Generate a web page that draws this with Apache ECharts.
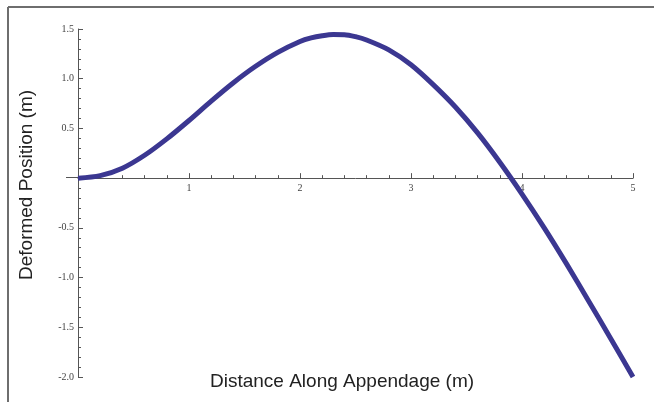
<!DOCTYPE html>
<html>
<head>
<meta charset="utf-8">
<script src="https://cdn.jsdelivr.net/npm/echarts@6/dist/echarts.min.js"></script>
<style>html,body{margin:0;padding:0;background:#fff;}#c{width:654px;height:402px;}</style>
</head>
<body>
<div id="c"></div>
<script>
const distance = [0, 0.2, 0.4, 0.6, 0.8, 1.0, 1.2, 1.4, 1.6, 1.8, 2.0, 2.1, 2.2, 2.3, 2.4, 2.5, 2.6, 2.8, 3.0, 3.2, 3.4, 3.6, 3.8, 4.0, 4.2, 4.4, 4.6, 4.8, 5.0];
const position = [0, 0.025, 0.10, 0.23, 0.395, 0.58, 0.775, 0.96, 1.125, 1.265, 1.374, 1.41, 1.432, 1.444, 1.443, 1.423, 1.389, 1.29, 1.14, 0.94, 0.715, 0.455, 0.16, -0.16, -0.50, -0.86, -1.235, -1.615, -2.0];
const xTitle = 'Distance Along Appendage (m)';
const yTitle = 'Deformed Position (m)';

const chart = echarts.init(document.getElementById('c'));
const axisCol = '#555';
const labelFont = { fontFamily: 'Liberation Serif', fontSize: 10, color: '#444' };
chart.setOption({
  animation: false,
  grid: { left: 78, right: 21, top: 29, bottom: 25, containLabel: false },
  graphic: [
    { type: 'line', shape: { x1: 8, y1: 7, x2: 654, y2: 7 }, style: { stroke: '#6e6e6e', lineWidth: 2 } },
    { type: 'line', shape: { x1: 8, y1: 7, x2: 8, y2: 402 }, style: { stroke: '#6e6e6e', lineWidth: 2 } },
    { type: 'line', shape: { x1: 66, y1: 177.5, x2: 78, y2: 177.5 }, style: { stroke: axisCol, lineWidth: 1 } },
    { type: 'text', left: 210, top: 372, style: { text: xTitle, font: '19px "Liberation Sans"', fill: '#222' } },
    { type: 'text', x: 17, y: 280, rotation: Math.PI / 2, style: { text: yTitle, font: '19px "Liberation Sans"', fill: '#222', textAlign: 'left', textVerticalAlign: 'top' } }
  ],
  xAxis: {
    type: 'value', min: 0, max: 5, interval: 1,
    axisLine: { onZero: true, lineStyle: { color: axisCol, width: 1 } },
    axisTick: { show: true, inside: true, length: 5, lineStyle: { color: axisCol } },
    minorTick: { show: true, splitNumber: 5, length: 3, lineStyle: { color: axisCol } },
    axisLabel: { show: true, margin: -194, ...labelFont, formatter: v => (v === 0 ? '' : String(v)) },
    splitLine: { show: false }
  },
  yAxis: {
    type: 'value', min: -2, max: 1.5, interval: 0.5,
    axisLine: { show: true, onZero: true, lineStyle: { color: axisCol, width: 1 } },
    axisTick: { show: true, inside: true, length: 5, lineStyle: { color: axisCol } },
    minorTick: { show: true, splitNumber: 5, length: 3, lineStyle: { color: axisCol } },
    axisLabel: { margin: 4, ...labelFont, formatter: v => (Math.abs(v) < 1e-9 ? '' : v.toFixed(1)) },
    splitLine: { show: false }
  },
  series: [{
    type: 'line',
    data: distance.map((d, i) => [d, position[i]]),
    smooth: 0.3,
    symbol: 'none',
    lineStyle: { color: '#3b3791', width: 5 }
  }]
});
</script>
</body>
</html>
